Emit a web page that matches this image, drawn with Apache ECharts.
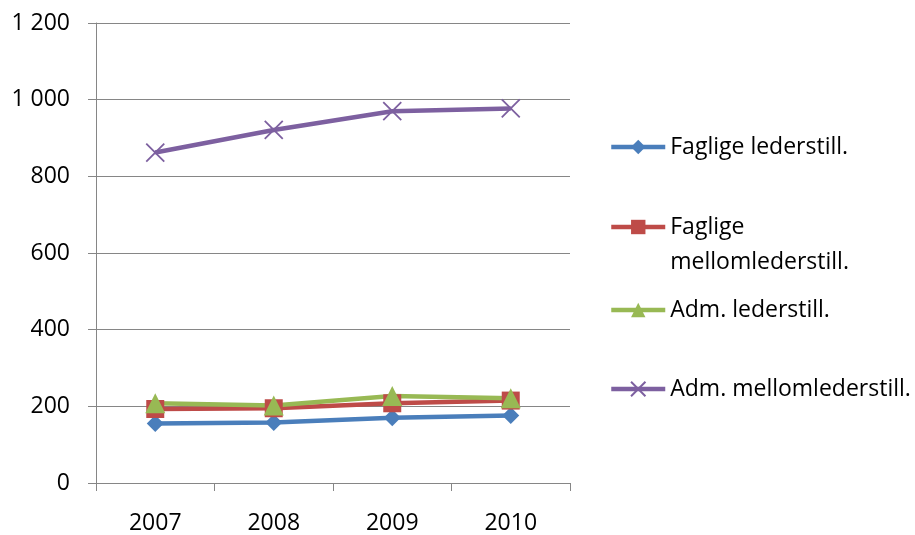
<!DOCTYPE html>
<html>
<head>
<meta charset="utf-8">
<script src="https://cdn.jsdelivr.net/npm/echarts@6/dist/echarts.min.js"></script>
<style>
  html, body { margin: 0; padding: 0; background: #fff; }
  #chart { width: 915px; height: 535px; }
</style>
</head>
<body>
<div id="chart"></div>
<script>
// Years on the x axis
const years = ['2007', '2008', '2009', '2010'];

// Number of positions per year
const fagligeLeder = [155, 158, 170, 176];
const fagligeMellomleder = [193, 195, 208, 215];
const admLeder = [208, 202, 227, 221];
const admMellomleder = [862, 921, 970, 977];

const seriesNames = [
  'Faglige lederstill.',
  'Faglige\nmellomlederstill.',
  'Adm. lederstill.',
  'Adm. mellomlederstill.'
];

const font = '"Open Sans", "Liberation Sans", sans-serif';
const fontSize = 23;
const grey = '#868686';

const crossPath = 'path://M0,0L10,10M10,0L0,10';

function lineSeries(name, data, color, symbol, size, extra) {
  return Object.assign({
    name: name,
    type: 'line',
    data: data,
    symbol: symbol,
    symbolSize: size,
    lineStyle: { color: color, width: 4.5 },
    itemStyle: { color: color },
    emphasis: { disabled: true },
    animation: false
  }, extra || {});
}

const series = [
  lineSeries(seriesNames[0], fagligeLeder, '#4a7ebb', 'diamond', 17),
  lineSeries(seriesNames[1], fagligeMellomleder, '#be4b48', 'rect', 18),
  lineSeries(seriesNames[2], admLeder, '#98b954', 'triangle', 20),
  lineSeries(seriesNames[3], admMellomleder, '#7d60a0', crossPath, 18, {
    itemStyle: { color: 'none', borderColor: '#7d60a0', borderWidth: 1.8 }
  })
];

// One legend block per entry so each can sit at its own height.
// The two-line entry gets an empty first line, so its marker (centred
// on the text block) lines up with "Faglige".
const lineGap = 35;
const legendTops = [132, 227 - lineGap * 1.5, 295, 374];
const legends = seriesNames.map((n, i) => ({
  data: [n],
  left: 609,
  top: legendTops[i],
  padding: 0,
  orient: 'vertical',
  itemWidth: 54,
  itemHeight: 18,
  itemGap: 0,
  lineStyle: { width: 4.5 },
  formatter: name => (name.indexOf('\n') >= 0 ? '\n' + name : name),
  textStyle: {
    fontFamily: font,
    fontSize: fontSize,
    color: '#000',
    lineHeight: i === 1 ? lineGap : 30
  },
  selectedMode: false
}));

const chart = echarts.init(document.getElementById('chart'), null, { renderer: 'canvas' });
chart.setOption({
  backgroundColor: '#fff',
  animation: false,
  legend: legends,
  grid: { left: 96, right: 345, top: 23, bottom: 52, containLabel: false },
  xAxis: {
    type: 'category',
    data: years,
    boundaryGap: true,
    axisLine: { lineStyle: { color: grey, width: 1 } },
    axisTick: { show: true, length: 8, inside: false, lineStyle: { color: grey } },
    axisLabel: { fontFamily: font, fontSize: fontSize, color: '#000', margin: 29 }
  },
  yAxis: {
    type: 'value',
    min: 0,
    max: 1200,
    interval: 200,
    axisLine: { show: true, lineStyle: { color: grey, width: 1 } },
    axisTick: { show: true, length: 8, lineStyle: { color: grey } },
    splitLine: { show: true, lineStyle: { color: grey, width: 1 } },
    axisLabel: {
      fontFamily: font,
      fontSize: fontSize,
      color: '#000',
      margin: 26,
      formatter: v => String(v).replace(/\B(?=(\d{3})+(?!\d))/g, ' ')
    }
  },
  series: series
});
</script>
</body>
</html>
